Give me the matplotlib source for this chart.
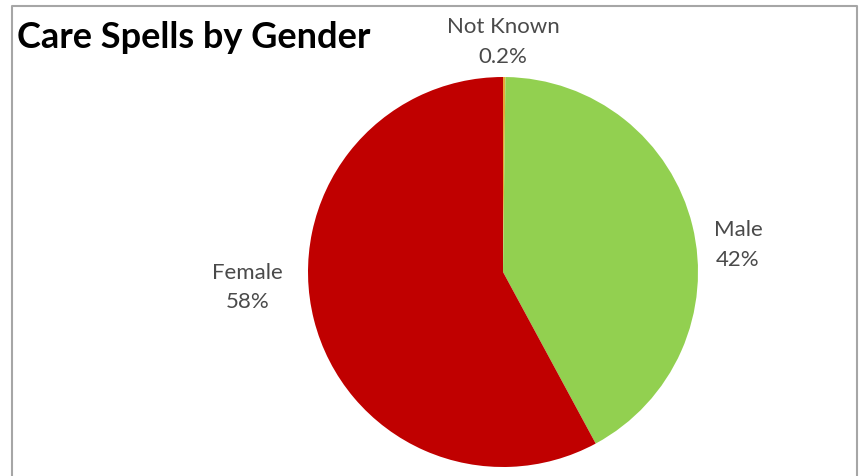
import matplotlib.pyplot as plt

plt.rc("font", family=["Lato", "DejaVu Sans"])

labels = ["Not Known", "Male", "Female"]
shares = [0.2, 42, 58]
share_text = ["0.2%", "42%", "58%"]
colors = ["#E8A838", "#92D050", "#C00000"]

fig = plt.figure(figsize=(8.6, 4.76), dpi=100)

# grey frame (bottom edge is cut off in the original)
fig.add_artist(plt.Line2D([12/860, 12/860, 857/860, 857/860],
                          [0, 1 - 6/476, 1 - 6/476, 0],
                          transform=fig.transFigure, color="#A6A6A6", lw=1.5))

ax = fig.add_axes([(503 - 195)/860, 9/476, 390/860, 390/476])
ax.pie(shares, colors=colors, startangle=90, counterclock=False,
       radius=1, wedgeprops={"linewidth": 0})
ax.set_xlim(-1, 1)
ax.set_ylim(-1, 1)
ax.set_aspect("equal")
ax.axis("off")

label_pos = [(0.0, 1.18), (1.205, 0.14), (-1.31, -0.08)]
for name, txt, (x, y) in zip(labels, share_text, label_pos):
  ax.text(x, y, name + "\n" + txt, ha="center", va="center",
          fontsize=16, color="#4A4A4A", linespacing=1.6, clip_on=False)

fig.text(17/860, 1 - 38/476, "Care Spells by Gender", fontsize=26,
         fontweight="bold", color="black", va="center", ha="left")

fig.savefig("out.png", dpi=100)
